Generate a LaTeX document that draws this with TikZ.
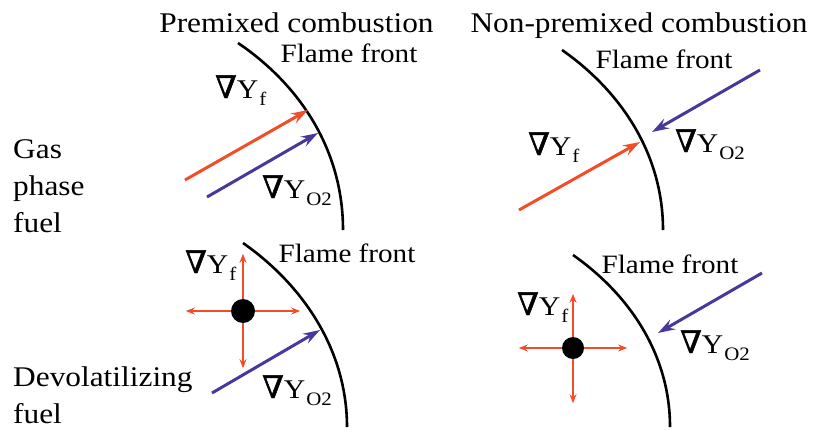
\documentclass[tikz,border=0pt]{standalone}
\usepackage{fontspec}
\setmainfont{Liberation Serif}[FakeStretch=1.1]
\newfontfamily\nablafont{DejaVu Serif}[Scale=1.15, FakeBold=1.5]
\usetikzlibrary{positioning,arrows.meta}

\definecolor{fuelred}{RGB}{240,78,40}
\definecolor{oxblue}{RGB}{75,55,155}

\newcommand{\gradY}[1]{{\nablafont ∇}Y\kern1pt\raisebox{-7pt}{\fontsize{19}{19}\selectfont #1}}

\tikzset{
  front/.style={line width=2.6pt, draw=black},
  fuelgrad/.style={line width=3pt, draw=fuelred,
    -{Stealth[length=17pt,width=11pt,inset=6pt]}},
  oxgrad/.style={line width=3pt, draw=oxblue,
    -{Stealth[length=17pt,width=11pt,inset=6pt]}},
  spread/.style={line width=1.5pt, draw=fuelred,
    -{Stealth[length=9pt,width=7pt,inset=3pt]}},
  particle/.style={circle, fill=black, inner sep=0pt, minimum size=#1},
  lbl/.style={font=\fontsize{28.5}{37}\selectfont, inner sep=0pt, anchor=base},
  flamelbl/.style={lbl, font=\fontsize{26.5}{30}\selectfont},
  gradlbl/.style={lbl, anchor=base west, font=\fontsize{27}{30}\selectfont}
}

\begin{document}
\begin{tikzpicture}[x=1pt, y=-1pt, node distance=45pt]
    \useasboundingbox (0,0) rectangle (813,431);

    % column and row titles
    \node[lbl] (premix) at (296.5,32) {Premixed combustion};
    \node[lbl] (nonpremix) at (639,32) {Non-premixed combustion};
    \node[lbl, anchor=base west, align=left] (gasfuel) at (13,232) {Gas\\phase\\fuel};
    \node[lbl, anchor=base west, align=left] (devfuel) at (13,423) {Devolatilizing\\fuel};

    % flame fronts
    \coordinate (fA1) at (238,43);  \coordinate (fA2) at (343,230);
    \coordinate (fB1) at (562,50);  \coordinate (fB2) at (663,230);
    \coordinate (fC1) at (243,243); \coordinate (fC2) at (347,427);
    \coordinate (fD1) at (573,255); \coordinate (fD2) at (670,427);
    \draw[front] (fA1) .. controls (300,85) and (343,150) .. (fA2);
    \draw[front] (fB1) .. controls (622,92) and (663,155) .. (fB2);
    \draw[front] (fC1) .. controls (303,285) and (347,350) .. (fC2);
    \draw[front] (fD1) .. controls (630,295) and (670,355) .. (fD2);
    \node[flamelbl] (flameA) at (349,62) {Flame front};
    \node[flamelbl] (flameB) at (664,68) {Flame front};
    \node[flamelbl] (flameC) at (347,262) {Flame front};
    \node[flamelbl] (flameD) at (670,273) {Flame front};

    % gas phase, premixed
    \coordinate (yfA0) at (185,180); \coordinate (yfA1) at (308,110);
    \coordinate (yoA0) at (207,197); \coordinate (yoA1) at (318,133);
    \draw[fuelgrad] (yfA0) -- (yfA1);
    \draw[oxgrad] (yoA0) -- (yoA1);
    \node[gradlbl] (gfA) at (215,98) {\gradY{f}};
    \node[gradlbl] (goA) at (262,198) {\gradY{O2}};

    % gas phase, non-premixed
    \coordinate (yoB0) at (760,70);  \coordinate (yoB1) at (652,132);
    \coordinate (yfB0) at (519,210); \coordinate (yfB1) at (640,142);
    \draw[oxgrad] (yoB0) -- (yoB1);
    \draw[fuelgrad] (yfB0) -- (yfB1);
    \node[gradlbl] (gfB) at (528,155) {\gradY{f}};
    \node[gradlbl] (goB) at (675,152) {\gradY{O2}};

    % devolatilizing, premixed
    \node[particle=24pt] (dotC) at (243,311) {};
    \coordinate[above=of dotC] (dotCn); \coordinate[below=of dotC] (dotCs);
    \coordinate[left=of dotC] (dotCw);  \coordinate[right=of dotC] (dotCe);
    \foreach \d in {n,s,w,e} \draw[spread] (dotC) -- (dotC\d);
    \coordinate (yoC0) at (212,393); \coordinate (yoC1) at (320,330);
    \draw[oxgrad] (yoC0) -- (yoC1);
    \node[gradlbl] (gfC) at (185,273) {\gradY{f}};
    \node[gradlbl] (goC) at (262,398) {\gradY{O2}};

    % devolatilizing, non-premixed
    \node[particle=22pt] (dotD) at (573,348) {};
    \coordinate[above=43pt of dotD] (dotDn); \coordinate[below=44pt of dotD] (dotDs);
    \coordinate[left=43pt of dotD] (dotDw);  \coordinate[right=43pt of dotD] (dotDe);
    \foreach \d in {n,s,w,e} \draw[spread] (dotD) -- (dotD\d);
    \coordinate (yoD0) at (762,273); \coordinate (yoD1) at (658,333);
    \draw[oxgrad] (yoD0) -- (yoD1);
    \node[gradlbl] (gfD) at (517,315) {\gradY{f}};
    \node[gradlbl] (goD) at (680,353) {\gradY{O2}};
\end{tikzpicture}
\end{document}
